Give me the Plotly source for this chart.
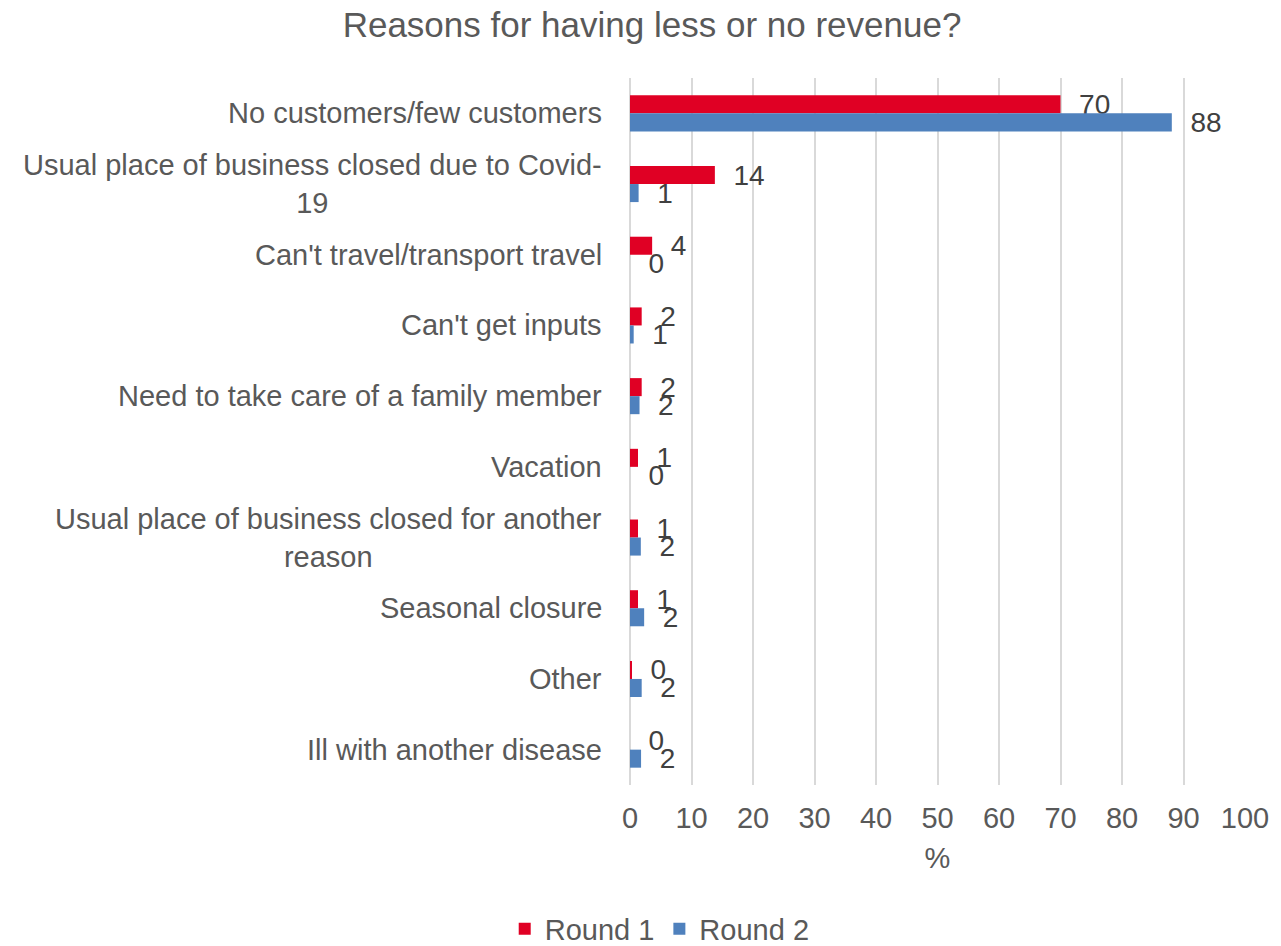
import plotly.graph_objects as go

# Survey responses: reasons for reduced or no revenue (% of respondents)
categories = [
    "No customers/few customers",
    "Usual place of business closed due to Covid-19",
    "Can't travel/transport travel",
    "Can't get inputs",
    "Need to take care of a family member",
    "Vacation",
    "Usual place of business closed for another reason",
    "Seasonal closure",
    "Other",
    "Ill with another disease",
]
category_labels = [
    "No customers/few customers",
    "Usual place of business closed due to Covid-<br>19",
    "Can't travel/transport travel",
    "Can't get inputs",
    "Need to take care of a family member",
    "Vacation",
    "Usual place of business closed for another<br>reason",
    "Seasonal closure",
    "Other",
    "Ill with another disease",
]
round1 = [70.0, 13.8, 3.6, 1.9, 1.9, 1.3, 1.3, 1.3, 0.3, 0.0]
round2 = [88.1, 1.4, 0.0, 0.6, 1.55, 0.0, 1.76, 2.3, 1.9, 1.8]
x_ticks = [0, 10, 20, 30, 40, 50, 60, 70, 80, 90, 100]

FONT = "Liberation Sans, Arial, sans-serif"
GREY = "#595959"
LABEL = "#404040"
NBSP = "\u00a0"

fig = go.Figure()
for name, vals, color in [("Round 1", round1, "#E00024"), ("Round 2", round2, "#4F81BD")]:
    fig.add_trace(go.Bar(
        name=name,
        y=categories,
        x=vals,
        orientation="h",
        marker=dict(color=color, line=dict(width=0)),
        texttemplate=NBSP * 2 + "%{x:.0f}",
        textposition="outside",
        textfont=dict(family=FONT, size=28, color=LABEL),
        constraintext="none",
        cliponaxis=False,
    ))

# Category labels, centred line-by-line to the left of the plot area
for cat, lab in zip(categories, category_labels):
    fig.add_annotation(
        x=0, xref="paper", y=cat, yref="y",
        text=lab, showarrow=False,
        xanchor="right", yanchor="middle", align="center",
        xshift=-26,
        font=dict(family=FONT, size=29, color=GREY),
    )

fig.update_layout(
    width=1281, height=946,
    margin=dict(l=630, r=28, t=78, b=161),
    paper_bgcolor="white", plot_bgcolor="white",
    barmode="group", bargap=0.49, bargroupgap=0,
    title=dict(
        text="Reasons for having less or no revenue?",
        x=0.509, xref="container", xanchor="center",
        y=1 - 25 / 946, yref="container", yanchor="middle",
        font=dict(family=FONT, size=35, color=GREY),
    ),
    xaxis=dict(
        range=[0, 100], tickvals=x_ticks, ticktext=[str(t) for t in x_ticks],
        showgrid=True, gridcolor="#D9D9D9", gridwidth=1.5,
        zeroline=True, zerolinecolor="#D9D9D9", zerolinewidth=1.5,
        showline=False, ticks="", ticklabelstandoff=13,
        tickfont=dict(family=FONT, size=29, color=GREY),
        title=dict(text="%", standoff=14, font=dict(family=FONT, size=29, color=GREY)),
    ),
    yaxis=dict(
        autorange="reversed", showticklabels=False, showgrid=False,
        showline=False, ticks="",
    ),
    legend=dict(
        orientation="h", xref="container", yref="container",
        x=0.515, xanchor="center", y=1 - 929 / 946, yanchor="middle",
        font=dict(family=FONT, size=29, color=GREY),
        itemwidth=30, traceorder="normal",
    ),
    showlegend=True,
)

fig.write_html("out.html")
